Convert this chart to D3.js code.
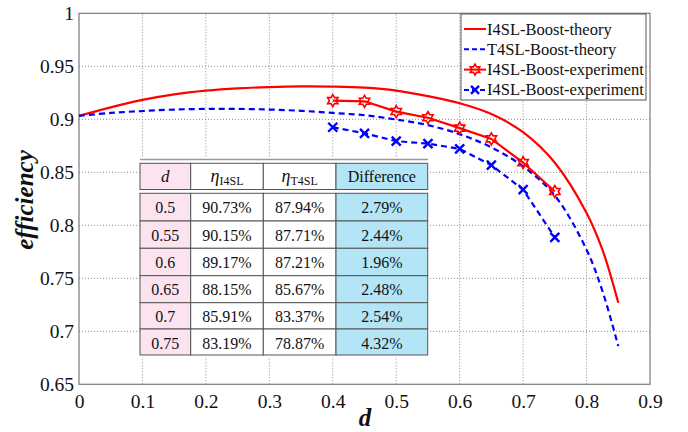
<!DOCTYPE html>
<html>
<head>
<meta charset="utf-8">
<script src="https://cdn.jsdelivr.net/npm/d3@7"></script>
<style>
  html, body { margin: 0; padding: 0; background: #fff; }
  svg { display: block; }
  svg text { font-family: "Times New Roman", "Liberation Serif", Tinos, "Nimbus Roman", "DejaVu Serif", serif; fill: #111; }
</style>
</head>
<body>
<svg id="chart" width="688" height="432"></svg>
<script>
// Theoretical efficiency curves versus duty ratio d
const theoryD     = [0, 0.05, 0.1, 0.15, 0.2, 0.25, 0.3, 0.35, 0.4, 0.45, 0.5, 0.55, 0.6, 0.65, 0.7, 0.75, 0.8, 0.825, 0.85];
const theoryI4SL  = [0.9033, 0.9113, 0.9183, 0.9235, 0.927, 0.9292, 0.9304, 0.931, 0.9308, 0.9298, 0.927, 0.9218, 0.9152, 0.905, 0.8878, 0.859, 0.8117, 0.777, 0.727];
const theoryT4SLd = [0, 0.05, 0.1, 0.15, 0.2, 0.25, 0.3, 0.35, 0.4, 0.45, 0.5, 0.55, 0.6, 0.65, 0.7, 0.75, 0.8, 0.825, 0.85];
const theoryT4SL  = [0.9033, 0.906, 0.9078, 0.9092, 0.9098, 0.9098, 0.9092, 0.908, 0.906, 0.9038, 0.8998, 0.8945, 0.886, 0.8735, 0.8555, 0.828, 0.777, 0.738, 0.686];

// Measured efficiencies
const expD    = [0.4, 0.45, 0.5, 0.55, 0.6, 0.65, 0.7, 0.75];
const expI4SL = [0.9176, 0.917, 0.9073, 0.9015, 0.8917, 0.8815, 0.8591, 0.8319];
const expT4SL = [0.8925, 0.8868, 0.8794, 0.8771, 0.8721, 0.8567, 0.8337, 0.7887];

// Table rows (d = 0.5 ... 0.75)
const tableD = ["0.5", "0.55", "0.6", "0.65", "0.7", "0.75"];
const tableStart = 2;

const xTicks = [0, 0.1, 0.2, 0.3, 0.4, 0.5, 0.6, 0.7, 0.8, 0.9];
const yTicks = [0.65, 0.7, 0.75, 0.8, 0.85, 0.9, 0.95, 1];

const legendLabels = ["I4SL-Boost-theory", "T4SL-Boost-theory", "I4SL-Boost-experiment", "I4SL-Boost-experiment"];

const RED = "#ff0000", BLUE = "#0000ff";
const SERIF = '"Times New Roman", "Liberation Serif", Tinos, "Nimbus Roman", "DejaVu Serif", serif';

const svg = d3.select("#chart");
const x = d3.scaleLinear().domain([0, 0.9]).range([79, 650]);
const y = d3.scaleLinear().domain([0.65, 1]).range([384.3, 13.3]);

// grid
const grid = svg.append("g");
grid.selectAll("line.gx").data(xTicks.slice(1, -1)).join("line")
  .attr("x1", d => x(d)).attr("x2", d => x(d))
  .attr("y1", y(0.65)).attr("y2", y(1))
  .attr("stroke", "#8a8a8a").attr("stroke-width", 1).attr("stroke-dasharray", "1,2");
grid.selectAll("line.gy").data(yTicks.slice(1, -1)).join("line")
  .attr("x1", x(0)).attr("x2", x(0.9))
  .attr("y1", d => y(d)).attr("y2", d => y(d))
  .attr("stroke", "#8a8a8a").attr("stroke-width", 1).attr("stroke-dasharray", "1,2");

// axes
const xAxis = d3.axisBottom(x).tickValues(xTicks).tickSize(0).tickPadding(10).tickFormat(d => d === 0 ? "0" : d3.format(".1f")(d));
const yAxis = d3.axisLeft(y).tickValues(yTicks).tickSize(0).tickPadding(5).tickFormat(d => d === 1 ? "1" : (Math.round(d * 100) % 10 === 0 ? d3.format(".1f")(d) : d3.format(".2f")(d)));

const gx = svg.append("g").attr("transform", `translate(0,${y(0.65)})`).call(xAxis);
const gy = svg.append("g").attr("transform", `translate(${x(0)},0)`).call(yAxis);
[gx, gy].forEach(g => {
  g.attr("font-family", null).attr("font-size", null);
  g.select(".domain").remove();
  g.selectAll("text").style("font-family", SERIF).style("font-size", "19.5px").attr("fill", "#111");
});
gx.selectAll("text").attr("dy", "0.71em");

// frame
svg.append("rect")
  .attr("x", x(0)).attr("y", y(1))
  .attr("width", x(0.9) - x(0)).attr("height", y(0.65) - y(1))
  .attr("fill", "none").attr("stroke", "#7a7a7a").attr("stroke-width", 1.2);

// axis titles
svg.append("text").attr("x", 365).attr("y", 426).attr("text-anchor", "middle")
  .style("font-size", "25px").style("font-weight", "bold").style("font-style", "italic").text("d");
svg.append("text").attr("transform", "translate(33,200) rotate(-90)").attr("text-anchor", "middle")
  .style("font-size", "25px").style("font-weight", "bold").style("font-style", "italic").text("efficiency");

// theory curves
const line = d3.line().curve(d3.curveCatmullRom.alpha(0.5));
svg.append("path")
  .attr("d", line(theoryD.map((d, i) => [x(d), y(theoryI4SL[i])])))
  .attr("fill", "none").attr("stroke", RED).attr("stroke-width", 2.2);
svg.append("path")
  .attr("d", line(theoryT4SLd.map((d, i) => [x(d), y(theoryT4SL[i])])))
  .attr("fill", "none").attr("stroke", BLUE).attr("stroke-width", 2.2).attr("stroke-dasharray", "6,4");

// marker shapes
function hexagram(r) {
  const pts = [];
  for (let k = 0; k < 12; k++) {
    const a = -Math.PI / 2 + k * Math.PI / 6;
    const rr = k % 2 === 0 ? r : r * 0.577;
    pts.push([rr * Math.cos(a), rr * Math.sin(a)]);
  }
  return "M" + pts.map(p => p.join(",")).join("L") + "Z";
}
function cross(r) {
  return `M${-r},${-r}L${r},${r}M${-r},${r}L${r},${-r}`;
}

// experimental series
const lineStraight = d3.line();
svg.append("path")
  .attr("d", lineStraight(expD.map((d, i) => [x(d), y(expI4SL[i])])))
  .attr("fill", "none").attr("stroke", RED).attr("stroke-width", 2.2);
svg.append("g").selectAll("path").data(expD).join("path")
  .attr("transform", (d, i) => `translate(${x(d)},${y(expI4SL[i])})`)
  .attr("d", hexagram(6))
  .attr("fill", "none").attr("stroke", RED).attr("stroke-width", 1.6);

svg.append("path")
  .attr("d", lineStraight(expD.map((d, i) => [x(d), y(expT4SL[i])])))
  .attr("fill", "none").attr("stroke", BLUE).attr("stroke-width", 2.2).attr("stroke-dasharray", "6,4");
svg.append("g").selectAll("path").data(expD).join("path")
  .attr("transform", (d, i) => `translate(${x(d)},${y(expT4SL[i])})`)
  .attr("d", cross(4.5))
  .attr("fill", "none").attr("stroke", BLUE).attr("stroke-width", 2.4);

// legend
const lg = svg.append("g");
lg.append("rect").attr("x", 461).attr("y", 14).attr("width", 185).attr("height", 86)
  .attr("fill", "#fff").attr("stroke", "#555").attr("stroke-width", 1);
const legendRows = [
  { c: RED, dash: null, m: null },
  { c: BLUE, dash: "5,3", m: null },
  { c: RED, dash: null, m: "hex" },
  { c: BLUE, dash: "5,3", m: "x" }
];
legendRows.forEach((r, i) => {
  const yy = 29 + i * 20.3;
  lg.append("line").attr("x1", 464).attr("x2", 486).attr("y1", yy).attr("y2", yy)
    .attr("stroke", r.c).attr("stroke-width", 2).attr("stroke-dasharray", r.dash);
  if (r.m === "hex") {
    lg.append("path").attr("transform", `translate(475,${yy})`).attr("d", hexagram(5.5))
      .attr("fill", "none").attr("stroke", RED).attr("stroke-width", 1.6);
  } else if (r.m === "x") {
    lg.append("path").attr("transform", `translate(475,${yy})`).attr("d", cross(4))
      .attr("fill", "none").attr("stroke", BLUE).attr("stroke-width", 2.4);
  }
  lg.append("text").attr("x", 487).attr("y", yy + 5.5).style("font-size", "16.5px").text(legendLabels[i]);
});

// table
const colX = [140, 190.7, 263.3, 336, 427.7];
const headTop = 163.3, headBottom = 189.5;
const rowTops = [193.3, 221, 248.3, 275.7, 302.7, 329, 355];
const PINK = "#fbe4f0", CYAN = "#b4e5f7";
const colFill = [PINK, "#fff", "#fff", CYAN];

const tb = svg.append("g");
tb.append("rect").attr("x", 140).attr("y", 157).attr("width", 288).attr("height", 200).attr("fill", "#fff");
tb.append("line").attr("x1", 140).attr("x2", 428).attr("y1", 159.5).attr("y2", 159.5)
  .attr("stroke", "#999").attr("stroke-width", 1.5);

// header cells
for (let c = 0; c < 4; c++) {
  tb.append("rect").attr("x", colX[c]).attr("y", headTop)
    .attr("width", colX[c + 1] - colX[c]).attr("height", headBottom - headTop)
    .attr("fill", colFill[c]).attr("stroke", "#555").attr("stroke-width", 1);
}
const hy = 182;
tb.append("text").attr("x", (colX[0] + colX[1]) / 2).attr("y", hy).attr("text-anchor", "middle")
  .style("font-size", "17px").style("font-style", "italic").text("d");
[["I4SL", 1], ["T4SL", 2]].forEach(([sub, c]) => {
  const t = tb.append("text").attr("x", (colX[c] + colX[c + 1]) / 2).attr("y", hy).attr("text-anchor", "middle");
  t.append("tspan").style("font-size", "18px").style("font-style", "italic").text("η");
  t.append("tspan").attr("dy", 3).style("font-size", "12px").text(sub);
});
tb.append("text").attr("x", (colX[3] + colX[4]) / 2).attr("y", hy).attr("text-anchor", "middle")
  .style("font-size", "16px").text("Difference");

// body cells
const pct = v => (v * 100).toFixed(2) + "%";
tableD.forEach((dl, r) => {
  const k = tableStart + r;
  const vals = [dl, pct(expI4SL[k]), pct(expT4SL[k]), (expI4SL[k] * 100 - expT4SL[k] * 100).toFixed(2) + "%"];
  const top = rowTops[r], h = rowTops[r + 1] - rowTops[r];
  for (let c = 0; c < 4; c++) {
    tb.append("rect").attr("x", colX[c]).attr("y", top)
      .attr("width", colX[c + 1] - colX[c]).attr("height", h)
      .attr("fill", colFill[c]).attr("stroke", "#555").attr("stroke-width", 1);
    tb.append("text").attr("x", (colX[c] + colX[c + 1]) / 2).attr("y", top + 19.5)
      .attr("text-anchor", "middle").style("font-size", "16px").text(vals[c]);
  }
});
</script>
</body>
</html>
